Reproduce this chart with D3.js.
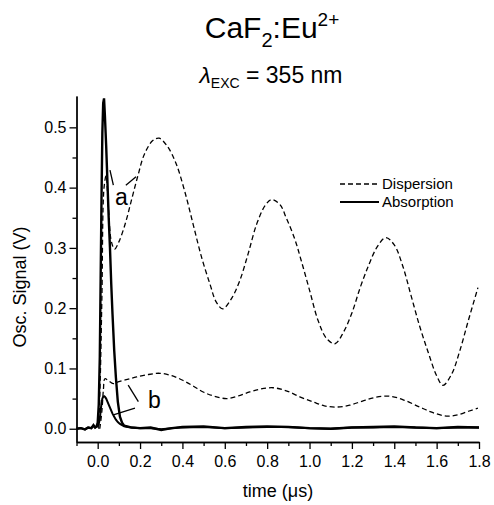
<!DOCTYPE html>
<html>
<head>
<meta charset="utf-8">
<script src="https://cdn.jsdelivr.net/npm/d3@7/dist/d3.min.js"></script>
<style>
  body { margin: 0; background: #fff; }
  text { font-family: "Liberation Sans", Arial, Helvetica, sans-serif; fill: #000; }
</style>
</head>
<body>
<div id="chart"></div>
<script>
// absorption traces (solid), time in microseconds
const absTime = [-0.1, -0.08, -0.06, -0.045, -0.03, -0.02, -0.012, -0.005, 0.0, 0.005, 0.01, 0.014, 0.018, 0.022, 0.026, 0.03, 0.034, 0.04, 0.046, 0.052, 0.058, 0.064, 0.07, 0.078, 0.086, 0.095, 0.105, 0.115, 0.125, 0.14, 0.16, 0.2, 0.25, 0.3, 0.35, 0.4, 0.5, 0.6, 0.7, 0.8, 0.9, 1.0, 1.1, 1.2, 1.3, 1.4, 1.5, 1.6, 1.7, 1.8];
const absA = [0.0, 0.001, -0.001, 0.002, 0.001, 0.006, 0.002, 0.004, 0.01, 0.04, 0.12, 0.25, 0.38, 0.49, 0.54, 0.548, 0.52, 0.47, 0.41, 0.35, 0.3, 0.24, 0.19, 0.13, 0.085, 0.045, 0.02, 0.01, 0.005, 0.004, 0.002, 0.001, 0.002, -0.002, 0.001, 0.003, 0.004, 0.001, 0.003, 0.004, 0.003, 0.001, 0.0, 0.002, 0.003, 0.004, 0.002, 0.001, 0.003, 0.002];
const absB = [0.0, 0.001, -0.001, 0.002, 0.001, 0.005, 0.002, 0.003, 0.004, 0.008, 0.016, 0.03, 0.042, 0.05, 0.053, 0.054, 0.053, 0.05, 0.045, 0.04, 0.035, 0.03, 0.025, 0.02, 0.015, 0.011, 0.008, 0.006, 0.004, 0.003, 0.002, 0.001, 0.001, -0.001, 0.001, 0.002, 0.003, 0.001, 0.002, 0.003, 0.003, 0.001, 0.0, 0.002, 0.002, 0.003, 0.002, 0.001, 0.002, 0.002];

// dispersion traces (dashed)
const dispTimeA = [0.005, 0.012, 0.02, 0.03, 0.04, 0.05, 0.065, 0.08, 0.1, 0.13, 0.16, 0.19, 0.22, 0.26, 0.29, 0.33, 0.37, 0.41, 0.45, 0.49, 0.53, 0.56, 0.59, 0.63, 0.67, 0.71, 0.75, 0.79, 0.82, 0.86, 0.89, 0.93, 0.96, 1.0, 1.04, 1.08, 1.12, 1.16, 1.2, 1.24, 1.28, 1.32, 1.36, 1.4, 1.44, 1.48, 1.52, 1.56, 1.6, 1.63, 1.67, 1.71, 1.75, 1.795];
const dispA = [0.0, 0.08, 0.22, 0.4, 0.42, 0.37, 0.31, 0.298, 0.31, 0.34, 0.38, 0.42, 0.455, 0.478, 0.482, 0.468, 0.44, 0.395, 0.34, 0.285, 0.24, 0.21, 0.199, 0.215, 0.245, 0.29, 0.339, 0.37, 0.38, 0.372, 0.35, 0.315, 0.28, 0.23, 0.18, 0.15, 0.141, 0.16, 0.192, 0.235, 0.272, 0.302, 0.317, 0.305, 0.27, 0.22, 0.17, 0.127, 0.088, 0.072, 0.09, 0.13, 0.18, 0.234];
const dispTimeB = [0.01, 0.02, 0.027, 0.034, 0.05, 0.074, 0.1, 0.14, 0.184, 0.24, 0.294, 0.35, 0.404, 0.45, 0.498, 0.55, 0.609, 0.66, 0.718, 0.77, 0.828, 0.89, 0.954, 1.02, 1.07, 1.127, 1.19, 1.25, 1.31, 1.379, 1.45, 1.52, 1.58, 1.646, 1.7, 1.75, 1.795];
const dispB = [0.0, 0.03, 0.065, 0.083, 0.08, 0.075, 0.078, 0.082, 0.086, 0.09, 0.092, 0.088, 0.08, 0.071, 0.061, 0.054, 0.05, 0.054, 0.061, 0.066, 0.068, 0.063, 0.053, 0.044, 0.038, 0.036, 0.039, 0.046, 0.052, 0.054, 0.047, 0.036, 0.027, 0.021, 0.023, 0.029, 0.034];

const xTicks = [0.0, 0.2, 0.4, 0.6, 0.8, 1.0, 1.2, 1.4, 1.6, 1.8];
const xMinor = [-0.1, 0.1, 0.3, 0.5, 0.7, 0.9, 1.1, 1.3, 1.5, 1.7];
const yTicks = [0.0, 0.1, 0.2, 0.3, 0.4, 0.5];
const yMinor = [0.05, 0.15, 0.25, 0.35, 0.45];

const width = 494, height = 505;

const svg = d3.select("#chart")
  .append("svg")
    .attr("width", width)
    .attr("height", height)

const x = d3.scaleLinear().domain([-0.1, 1.8]).range([76.5, 479])
const y = d3.scaleLinear().domain([-0.022, 0.552]).range([442, 96])

// axes
const xAxis = d3.axisBottom(x).tickValues(xTicks).tickFormat(d3.format(".1f"))
  .tickSize(7).tickSizeOuter(0).tickPadding(7)
const xAxisMinor = d3.axisBottom(x).tickValues(xMinor).tickFormat("").tickSize(4).tickSizeOuter(0)
const yAxis = d3.axisLeft(y).tickValues(yTicks).tickFormat(d3.format(".1f"))
  .tickSize(7).tickSizeOuter(0).tickPadding(3)
const yAxisMinor = d3.axisLeft(y).tickValues(yMinor).tickFormat("").tickSize(4).tickSizeOuter(0)

function styleAxis(g) {
  g.selectAll("path, line").attr("stroke", "#000").attr("stroke-width", 1.3)
  g.selectAll("text").attr("font-size", 16).attr("font-family", "Liberation Sans, Arial, sans-serif")
}

svg.append("g").attr("transform", "translate(0,442)").call(xAxisMinor).call(styleAxis)
svg.append("g").attr("transform", "translate(0,442)").call(xAxis).call(styleAxis)
svg.append("g").attr("transform", "translate(76.5,0)").call(yAxisMinor).call(styleAxis)
svg.append("g").attr("transform", "translate(76.5,0)").call(yAxis).call(styleAxis)

// curves
const smooth = d3.line().x(d => x(d[0])).y(d => y(d[1])).curve(d3.curveCatmullRom.alpha(0.5))
const sharp = d3.line().x(d => x(d[0])).y(d => y(d[1]))

svg.append("path")
  .datum(d3.zip(dispTimeA, dispA))
  .attr("d", smooth)
  .attr("fill", "none").attr("stroke", "#000").attr("stroke-width", 1.3)
  .attr("stroke-dasharray", "5,3")

svg.append("path")
  .datum(d3.zip(dispTimeB, dispB))
  .attr("d", smooth)
  .attr("fill", "none").attr("stroke", "#000").attr("stroke-width", 1.3)
  .attr("stroke-dasharray", "5,3")

svg.append("path")
  .datum(d3.zip(absTime, absB))
  .attr("d", sharp)
  .attr("fill", "none").attr("stroke", "#000").attr("stroke-width", 2)

svg.append("path")
  .datum(d3.zip(absTime, absA))
  .attr("d", sharp)
  .attr("fill", "none").attr("stroke", "#000").attr("stroke-width", 2.4)

// annotations a / b with leader lines (data units)
const leaders = [
  [[0.058, 0.429], [0.074, 0.404]],
  [[0.133, 0.404], [0.181, 0.418]],
  [[0.144, 0.0725], [0.192, 0.045]],
  [[0.176, 0.034], [0.074, 0.023]]
]
svg.selectAll(".leader")
  .data(leaders)
  .enter()
  .append("line")
    .attr("x1", d => x(d[0][0])).attr("y1", d => y(d[0][1]))
    .attr("x2", d => x(d[1][0])).attr("y2", d => y(d[1][1]))
    .attr("stroke", "#000").attr("stroke-width", 1.3)

svg.append("text").attr("x", x(0.082)).attr("y", y(0.371)).attr("font-size", 23).text("a")
svg.append("text").attr("x", x(0.237)).attr("y", y(0.034)).attr("font-size", 23).text("b")

// legend
const legend = svg.append("g")
legend.append("line").attr("x1", 340).attr("x2", 379).attr("y1", 184).attr("y2", 184)
  .attr("stroke", "#000").attr("stroke-width", 1.3).attr("stroke-dasharray", "5,3")
legend.append("text").attr("x", 382).attr("y", 189).attr("font-size", 15).text("Dispersion")
legend.append("line").attr("x1", 340).attr("x2", 379).attr("y1", 202).attr("y2", 202)
  .attr("stroke", "#000").attr("stroke-width", 2.2)
legend.append("text").attr("x", 382).attr("y", 207).attr("font-size", 15).text("Absorption")

// axis titles
svg.append("text")
  .attr("transform", "translate(26,287) rotate(-90)")
  .attr("text-anchor", "middle").attr("font-size", 18)
  .text("Osc. Signal (V)")
svg.append("text")
  .attr("x", 278).attr("y", 497)
  .attr("text-anchor", "middle").attr("font-size", 18)
  .text("time (μs)")

// title
const title = svg.append("text").attr("x", 272).attr("y", 38).attr("text-anchor", "middle").attr("font-size", 30)
title.append("tspan").text("CaF")
title.append("tspan").attr("font-size", 20).attr("dy", 9).text("2")
title.append("tspan").attr("dy", -9).text(":Eu")
title.append("tspan").attr("font-size", 19).attr("dy", -12).text("2+")

const sub = svg.append("text").attr("x", 271).attr("y", 83).attr("text-anchor", "middle").attr("font-size", 23)
sub.append("tspan").attr("font-style", "italic").text("λ")
sub.append("tspan").attr("font-size", 14).attr("dy", 5).text("EXC")
sub.append("tspan").attr("dy", -5).text(" = 355 nm")
</script>
</body>
</html>
